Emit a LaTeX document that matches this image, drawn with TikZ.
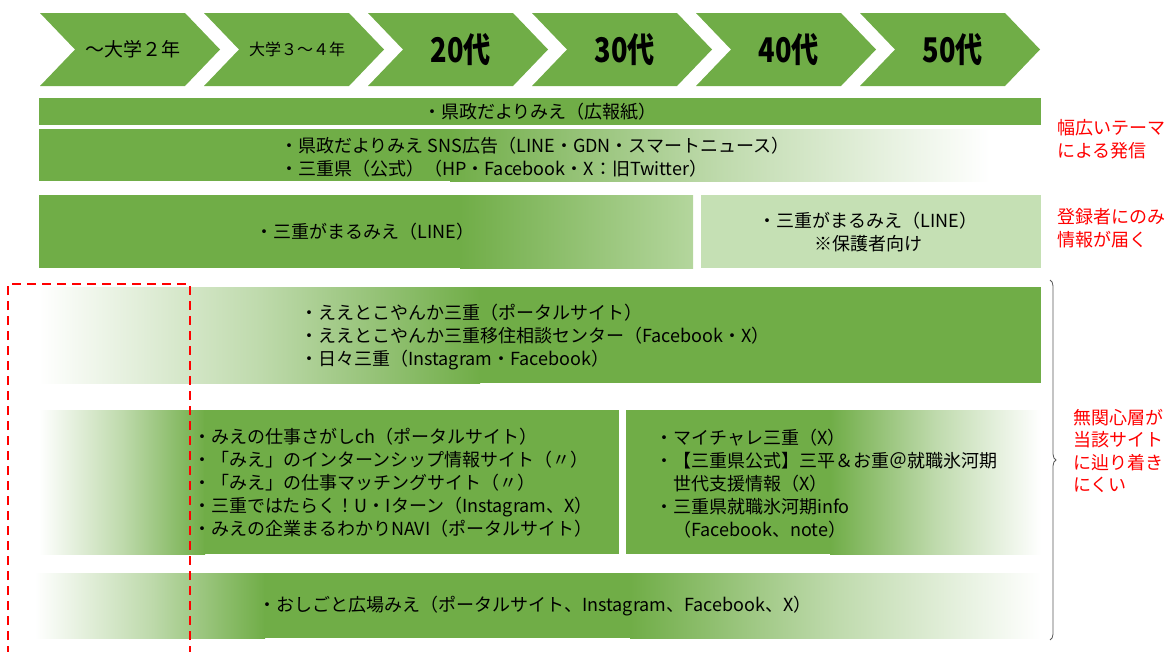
\documentclass[tikz,border=0pt]{standalone}
\usepackage{fontspec}
\setmainfont{Noto Sans CJK JP}
\newfontfamily\agefont{Noto Sans CJK JP}[FakeStretch=0.8]
\usetikzlibrary{decorations.pathreplacing}
\definecolor{MieGreen}{HTML}{70AD47}
\definecolor{MieLight}{HTML}{C5E0B4}
\definecolor{MieMid}{HTML}{B4D69D}
\pgfdeclarehorizontalshading{fadein}{100bp}{color(0bp)=(white); color(25bp)=(white); color(50bp)=(MieGreen!45!white); color(75bp)=(MieGreen); color(100bp)=(MieGreen)}
\pgfdeclarehorizontalshading{fadeout}{100bp}{color(0bp)=(MieGreen); color(25bp)=(MieGreen); color(50bp)=(MieGreen!45!white); color(75bp)=(white); color(100bp)=(white)}
\pgfdeclarehorizontalshading{fadelight}{100bp}{color(0bp)=(MieGreen); color(25bp)=(MieGreen); color(45bp)=(MieGreen!60!MieMid); color(75bp)=(MieMid); color(100bp)=(MieMid)}

\begin{document}
\begin{tikzpicture}[x=1pt, y=-1pt,
    txt/.style={font=\fontsize{18}{23}\selectfont, inner sep=0pt},
    list/.style={txt, align=left, anchor=west},
    note/.style={txt, font=\fontsize{18}{22.5}\selectfont, text=red, align=left, anchor=west}]
        \useasboundingbox (0,0) rectangle (1174,651);
        \foreach \t/\s/\w [count=\i from 0] in {～大学２年/19/\mdseries, 大学３～４年/16/\mdseries, 20代/34/\agefont\bfseries, 30代/34/\agefont\bfseries, 40代/34/\agefont\bfseries, 50代/34/\agefont\bfseries} {
            \fill[MieGreen] (40+164*\i,13) -- (185+164*\i,13) -- (220+164*\i,49.5) -- (185+164*\i,86) -- (40+164*\i,86) -- (75+164*\i,49.5) -- cycle;
            \node[inner sep=0pt, font=\w\fontsize{\s}{\s}\selectfont] (age\i) at (133+164*\i,49.5) {\t};
        }
        \fill[MieGreen] (39,98) rectangle (1041,125);
        \node[txt] (paper) at (540,112) {・県政だよりみえ（広報紙）};
        \fill[MieGreen] (39,129) rectangle (451,181);
        \shade[shading=fadeout] (450,129) rectangle (990,181);
        \node[list] (sns) at (280,157.5) {・県政だよりみえ SNS広告（LINE・GDN・スマートニュース）\\・三重県（公式）（HP・Facebook・X：旧Twitter）};
        \fill[MieGreen] (39,195) rectangle (461,268);
        \shade[shading=fadelight] (460,195) rectangle (693,268);
        \fill[MieLight] (701,195) rectangle (1041,268);
        \node[txt] (line) at (365,232) {・三重がまるみえ（LINE）};
        \node[txt, align=center] (parent) at (868,232) {・三重がまるみえ（LINE）\\※保護者向け};
        \shade[shading=fadein] (39,287) rectangle (480,383);
        \fill[MieGreen] (479,287) rectangle (1041,383);
        \node[list] (iju) at (300,337) {・ええとこやんか三重（ポータルサイト）\\・ええとこやんか三重移住相談センター（Facebook・X）\\・日々三重（Instagram・Facebook）};
        \shade[shading=fadein] (39,410) rectangle (205,554);
        \fill[MieGreen] (204,410) rectangle (619,554);
        \fill[MieGreen] (626,410) rectangle (831,554);
        \shade[shading=fadeout] (830,410) rectangle (1041,554);
        \node[list] (job) at (193,483) {・みえの仕事さがしch（ポータルサイト）\\・「みえ」のインターンシップ情報サイト（〃）\\・「みえ」の仕事マッチングサイト（〃）\\・三重ではたらく！U・Iターン（Instagram、X）\\・みえの企業まるわかりNAVI（ポータルサイト）};
        \node[list] (hyoga) at (655,484) {・マイチャレ三重（X）\\・【三重県公式】三平＆お重＠就職氷河期\\　世代支援情報（X）\\・三重県就職氷河期info\\　（Facebook、note）};
        \shade[shading=fadein] (35,573) rectangle (265,638);
        \fill[MieGreen] (264,573) rectangle (631,638);
        \shade[shading=fadeout] (630,573) rectangle (1041,638);
        \node[txt] (hiroba) at (535,606) {・おしごと広場みえ（ポータルサイト、Instagram、Facebook、X）};
        \draw[red, line width=2.4pt, dash pattern=on 9pt off 6pt] (8,655) -- (8,284) -- (190,284) -- (190,655);
        \coordinate (brT) at (1050,280);
        \coordinate (brB) at (1050,640);
        \draw[gray!70!black, line width=0.8pt, decorate, decoration={brace, amplitude=6pt}] (brT) -- (brB);
        \node[note] (wide) at (1057,139) {幅広いテーマ\\による発信};
        \node[note] (reg) at (1057,228) {登録者にのみ\\情報が届く};
        \node[note] (hard) at (1073,451) {無関心層が\\当該サイト\\に辿り着き\\にくい};
    \end{tikzpicture}
\end{document}
